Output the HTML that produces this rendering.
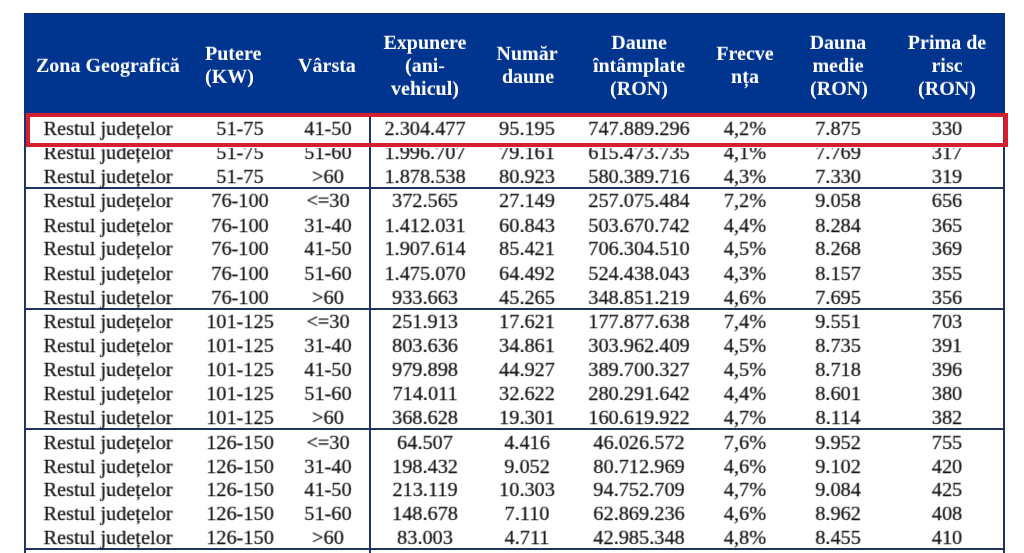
<!DOCTYPE html>
<html><head><meta charset="utf-8"><style>
html,body{margin:0;padding:0;background:#fff;width:1024px;height:553px;overflow:hidden;position:relative}
.t{position:absolute;font-family:"Liberation Serif",serif;font-size:20px;line-height:24px;white-space:nowrap;will-change:transform;transform:scale(1.015,0.95);transform-origin:150px 19.0px}
.t.l{transform-origin:0 19.0px}
.n{-webkit-text-stroke:0.25px #141414}
.b{font-weight:bold;transform:scale(1,0.95)}
.r{position:absolute;box-sizing:content-box}
</style></head><body>
<div class="r" style="left:24px;top:13px;width:981px;height:100px;background:#00358f"></div>
<div class="r" style="left:24px;top:13px;width:981px;height:1px;background:#0b2c6e"></div>
<div class="r" style="left:24px;top:13px;width:2px;height:100px;background:#08307f"></div>
<div class="r" style="left:1003px;top:13px;width:2px;height:100px;background:#08307f"></div>
<div class="t l b" style="left:36.30px;top:53.00px;color:#ffffff">Zona Geografică</div>
<div class="t l b" style="left:205.00px;top:41.20px;color:#ffffff">Putere</div>
<div class="t l b" style="left:204.50px;top:64.40px;color:#ffffff">(KW)</div>
<div class="t b" style="left:176.60px;top:53.20px;width:300px;text-align:center;color:#ffffff">Vârsta</div>
<div class="t b" style="left:275.00px;top:29.90px;width:300px;text-align:center;color:#ffffff">Expunere</div>
<div class="t b" style="left:274.70px;top:52.90px;width:300px;text-align:center;color:#ffffff">(ani-</div>
<div class="t b" style="left:275.00px;top:75.60px;width:300px;text-align:center;color:#ffffff">vehicul)</div>
<div class="t b" style="left:377.30px;top:40.80px;width:300px;text-align:center;color:#ffffff">Număr</div>
<div class="t b" style="left:377.90px;top:64.00px;width:300px;text-align:center;color:#ffffff">daune</div>
<div class="t b" style="left:488.50px;top:29.50px;width:300px;text-align:center;color:#ffffff">Daune</div>
<div class="t b" style="left:488.60px;top:52.70px;width:300px;text-align:center;color:#ffffff">întâmplate</div>
<div class="t b" style="left:489.00px;top:75.60px;width:300px;text-align:center;color:#ffffff">(RON)</div>
<div class="t b" style="left:595.00px;top:40.80px;width:300px;text-align:center;color:#ffffff">Frecve</div>
<div class="t b" style="left:595.00px;top:64.00px;width:300px;text-align:center;color:#ffffff">nța</div>
<div class="t b" style="left:688.00px;top:29.50px;width:300px;text-align:center;color:#ffffff">Dauna</div>
<div class="t b" style="left:688.00px;top:52.70px;width:300px;text-align:center;color:#ffffff">medie</div>
<div class="t b" style="left:688.60px;top:75.60px;width:300px;text-align:center;color:#ffffff">(RON)</div>
<div class="t b" style="left:797.00px;top:29.50px;width:300px;text-align:center;color:#ffffff">Prima de</div>
<div class="t b" style="left:797.00px;top:52.70px;width:300px;text-align:center;color:#ffffff">risc</div>
<div class="t b" style="left:797.00px;top:75.60px;width:300px;text-align:center;color:#ffffff">(RON)</div>
<div class="r" style="left:24px;top:113px;width:2px;height:440px;background:#1f3462"></div>
<div class="r" style="left:1003px;top:113px;width:2px;height:440px;background:#1f3462"></div>
<div class="r" style="left:369px;top:113px;width:2px;height:440px;background:#1f3462"></div>
<div class="r" style="left:24px;top:187px;width:981px;height:2px;background:#1f3462"></div>
<div class="r" style="left:24px;top:308px;width:981px;height:2px;background:#1f3462"></div>
<div class="r" style="left:24px;top:428px;width:981px;height:2px;background:#1f3462"></div>
<div class="r" style="left:24px;top:548px;width:981px;height:2px;background:#1f3462"></div>
<div class="t n" style="left:-41.70px;top:115.80px;width:300px;text-align:center;color:#141414">Restul județelor</div>
<div class="t n" style="left:89.60px;top:115.80px;width:300px;text-align:center;color:#141414">51-75</div>
<div class="t n" style="left:177.80px;top:115.80px;width:300px;text-align:center;color:#141414">41-50</div>
<div class="t n" style="left:274.50px;top:115.80px;width:300px;text-align:center;color:#141414">2.304.477</div>
<div class="t n" style="left:377.30px;top:115.80px;width:300px;text-align:center;color:#141414">95.195</div>
<div class="t n" style="left:488.60px;top:115.80px;width:300px;text-align:center;color:#141414">747.889.296</div>
<div class="t n" style="left:595.20px;top:115.80px;width:300px;text-align:center;color:#141414">4,2%</div>
<div class="t n" style="left:688.40px;top:115.80px;width:300px;text-align:center;color:#141414">7.875</div>
<div class="t n" style="left:796.80px;top:115.80px;width:300px;text-align:center;color:#141414">330</div>
<div class="t n" style="left:-41.70px;top:139.80px;width:300px;text-align:center;color:#141414">Restul județelor</div>
<div class="t n" style="left:89.60px;top:139.80px;width:300px;text-align:center;color:#141414">51-75</div>
<div class="t n" style="left:177.80px;top:139.80px;width:300px;text-align:center;color:#141414">51-60</div>
<div class="t n" style="left:274.50px;top:139.80px;width:300px;text-align:center;color:#141414">1.996.707</div>
<div class="t n" style="left:377.30px;top:139.80px;width:300px;text-align:center;color:#141414">79.161</div>
<div class="t n" style="left:488.60px;top:139.80px;width:300px;text-align:center;color:#141414">615.473.735</div>
<div class="t n" style="left:595.20px;top:139.80px;width:300px;text-align:center;color:#141414">4,1%</div>
<div class="t n" style="left:688.40px;top:139.80px;width:300px;text-align:center;color:#141414">7.769</div>
<div class="t n" style="left:796.80px;top:139.80px;width:300px;text-align:center;color:#141414">317</div>
<div class="t n" style="left:-41.70px;top:163.50px;width:300px;text-align:center;color:#141414">Restul județelor</div>
<div class="t n" style="left:89.60px;top:163.50px;width:300px;text-align:center;color:#141414">51-75</div>
<div class="t n" style="left:177.80px;top:163.50px;width:300px;text-align:center;color:#141414">&gt;60</div>
<div class="t n" style="left:274.50px;top:163.50px;width:300px;text-align:center;color:#141414">1.878.538</div>
<div class="t n" style="left:377.30px;top:163.50px;width:300px;text-align:center;color:#141414">80.923</div>
<div class="t n" style="left:488.60px;top:163.50px;width:300px;text-align:center;color:#141414">580.389.716</div>
<div class="t n" style="left:595.20px;top:163.50px;width:300px;text-align:center;color:#141414">4,3%</div>
<div class="t n" style="left:688.40px;top:163.50px;width:300px;text-align:center;color:#141414">7.330</div>
<div class="t n" style="left:796.80px;top:163.50px;width:300px;text-align:center;color:#141414">319</div>
<div class="t n" style="left:-41.70px;top:188.40px;width:300px;text-align:center;color:#141414">Restul județelor</div>
<div class="t n" style="left:89.60px;top:188.40px;width:300px;text-align:center;color:#141414">76-100</div>
<div class="t n" style="left:177.80px;top:188.40px;width:300px;text-align:center;color:#141414">&lt;=30</div>
<div class="t n" style="left:274.50px;top:188.40px;width:300px;text-align:center;color:#141414">372.565</div>
<div class="t n" style="left:377.30px;top:188.40px;width:300px;text-align:center;color:#141414">27.149</div>
<div class="t n" style="left:488.60px;top:188.40px;width:300px;text-align:center;color:#141414">257.075.484</div>
<div class="t n" style="left:595.20px;top:188.40px;width:300px;text-align:center;color:#141414">7,2%</div>
<div class="t n" style="left:688.40px;top:188.40px;width:300px;text-align:center;color:#141414">9.058</div>
<div class="t n" style="left:796.80px;top:188.40px;width:300px;text-align:center;color:#141414">656</div>
<div class="t n" style="left:-41.70px;top:212.60px;width:300px;text-align:center;color:#141414">Restul județelor</div>
<div class="t n" style="left:89.60px;top:212.60px;width:300px;text-align:center;color:#141414">76-100</div>
<div class="t n" style="left:177.80px;top:212.60px;width:300px;text-align:center;color:#141414">31-40</div>
<div class="t n" style="left:274.50px;top:212.60px;width:300px;text-align:center;color:#141414">1.412.031</div>
<div class="t n" style="left:377.30px;top:212.60px;width:300px;text-align:center;color:#141414">60.843</div>
<div class="t n" style="left:488.60px;top:212.60px;width:300px;text-align:center;color:#141414">503.670.742</div>
<div class="t n" style="left:595.20px;top:212.60px;width:300px;text-align:center;color:#141414">4,4%</div>
<div class="t n" style="left:688.40px;top:212.60px;width:300px;text-align:center;color:#141414">8.284</div>
<div class="t n" style="left:796.80px;top:212.60px;width:300px;text-align:center;color:#141414">365</div>
<div class="t n" style="left:-41.70px;top:236.30px;width:300px;text-align:center;color:#141414">Restul județelor</div>
<div class="t n" style="left:89.60px;top:236.30px;width:300px;text-align:center;color:#141414">76-100</div>
<div class="t n" style="left:177.80px;top:236.30px;width:300px;text-align:center;color:#141414">41-50</div>
<div class="t n" style="left:274.50px;top:236.30px;width:300px;text-align:center;color:#141414">1.907.614</div>
<div class="t n" style="left:377.30px;top:236.30px;width:300px;text-align:center;color:#141414">85.421</div>
<div class="t n" style="left:488.60px;top:236.30px;width:300px;text-align:center;color:#141414">706.304.510</div>
<div class="t n" style="left:595.20px;top:236.30px;width:300px;text-align:center;color:#141414">4,5%</div>
<div class="t n" style="left:688.40px;top:236.30px;width:300px;text-align:center;color:#141414">8.268</div>
<div class="t n" style="left:796.80px;top:236.30px;width:300px;text-align:center;color:#141414">369</div>
<div class="t n" style="left:-41.70px;top:260.60px;width:300px;text-align:center;color:#141414">Restul județelor</div>
<div class="t n" style="left:89.60px;top:260.60px;width:300px;text-align:center;color:#141414">76-100</div>
<div class="t n" style="left:177.80px;top:260.60px;width:300px;text-align:center;color:#141414">51-60</div>
<div class="t n" style="left:274.50px;top:260.60px;width:300px;text-align:center;color:#141414">1.475.070</div>
<div class="t n" style="left:377.30px;top:260.60px;width:300px;text-align:center;color:#141414">64.492</div>
<div class="t n" style="left:488.60px;top:260.60px;width:300px;text-align:center;color:#141414">524.438.043</div>
<div class="t n" style="left:595.20px;top:260.60px;width:300px;text-align:center;color:#141414">4,3%</div>
<div class="t n" style="left:688.40px;top:260.60px;width:300px;text-align:center;color:#141414">8.157</div>
<div class="t n" style="left:796.80px;top:260.60px;width:300px;text-align:center;color:#141414">355</div>
<div class="t n" style="left:-41.70px;top:284.70px;width:300px;text-align:center;color:#141414">Restul județelor</div>
<div class="t n" style="left:89.60px;top:284.70px;width:300px;text-align:center;color:#141414">76-100</div>
<div class="t n" style="left:177.80px;top:284.70px;width:300px;text-align:center;color:#141414">&gt;60</div>
<div class="t n" style="left:274.50px;top:284.70px;width:300px;text-align:center;color:#141414">933.663</div>
<div class="t n" style="left:377.30px;top:284.70px;width:300px;text-align:center;color:#141414">45.265</div>
<div class="t n" style="left:488.60px;top:284.70px;width:300px;text-align:center;color:#141414">348.851.219</div>
<div class="t n" style="left:595.20px;top:284.70px;width:300px;text-align:center;color:#141414">4,6%</div>
<div class="t n" style="left:688.40px;top:284.70px;width:300px;text-align:center;color:#141414">7.695</div>
<div class="t n" style="left:796.80px;top:284.70px;width:300px;text-align:center;color:#141414">356</div>
<div class="t n" style="left:-41.70px;top:308.70px;width:300px;text-align:center;color:#141414">Restul județelor</div>
<div class="t n" style="left:89.60px;top:308.70px;width:300px;text-align:center;color:#141414">101-125</div>
<div class="t n" style="left:177.80px;top:308.70px;width:300px;text-align:center;color:#141414">&lt;=30</div>
<div class="t n" style="left:274.50px;top:308.70px;width:300px;text-align:center;color:#141414">251.913</div>
<div class="t n" style="left:377.30px;top:308.70px;width:300px;text-align:center;color:#141414">17.621</div>
<div class="t n" style="left:488.60px;top:308.70px;width:300px;text-align:center;color:#141414">177.877.638</div>
<div class="t n" style="left:595.20px;top:308.70px;width:300px;text-align:center;color:#141414">7,4%</div>
<div class="t n" style="left:688.40px;top:308.70px;width:300px;text-align:center;color:#141414">9.551</div>
<div class="t n" style="left:796.80px;top:308.70px;width:300px;text-align:center;color:#141414">703</div>
<div class="t n" style="left:-41.70px;top:332.90px;width:300px;text-align:center;color:#141414">Restul județelor</div>
<div class="t n" style="left:89.60px;top:332.90px;width:300px;text-align:center;color:#141414">101-125</div>
<div class="t n" style="left:177.80px;top:332.90px;width:300px;text-align:center;color:#141414">31-40</div>
<div class="t n" style="left:274.50px;top:332.90px;width:300px;text-align:center;color:#141414">803.636</div>
<div class="t n" style="left:377.30px;top:332.90px;width:300px;text-align:center;color:#141414">34.861</div>
<div class="t n" style="left:488.60px;top:332.90px;width:300px;text-align:center;color:#141414">303.962.409</div>
<div class="t n" style="left:595.20px;top:332.90px;width:300px;text-align:center;color:#141414">4,5%</div>
<div class="t n" style="left:688.40px;top:332.90px;width:300px;text-align:center;color:#141414">8.735</div>
<div class="t n" style="left:796.80px;top:332.90px;width:300px;text-align:center;color:#141414">391</div>
<div class="t n" style="left:-41.70px;top:357.00px;width:300px;text-align:center;color:#141414">Restul județelor</div>
<div class="t n" style="left:89.60px;top:357.00px;width:300px;text-align:center;color:#141414">101-125</div>
<div class="t n" style="left:177.80px;top:357.00px;width:300px;text-align:center;color:#141414">41-50</div>
<div class="t n" style="left:274.50px;top:357.00px;width:300px;text-align:center;color:#141414">979.898</div>
<div class="t n" style="left:377.30px;top:357.00px;width:300px;text-align:center;color:#141414">44.927</div>
<div class="t n" style="left:488.60px;top:357.00px;width:300px;text-align:center;color:#141414">389.700.327</div>
<div class="t n" style="left:595.20px;top:357.00px;width:300px;text-align:center;color:#141414">4,5%</div>
<div class="t n" style="left:688.40px;top:357.00px;width:300px;text-align:center;color:#141414">8.718</div>
<div class="t n" style="left:796.80px;top:357.00px;width:300px;text-align:center;color:#141414">396</div>
<div class="t n" style="left:-41.70px;top:380.90px;width:300px;text-align:center;color:#141414">Restul județelor</div>
<div class="t n" style="left:89.60px;top:380.90px;width:300px;text-align:center;color:#141414">101-125</div>
<div class="t n" style="left:177.80px;top:380.90px;width:300px;text-align:center;color:#141414">51-60</div>
<div class="t n" style="left:274.50px;top:380.90px;width:300px;text-align:center;color:#141414">714.011</div>
<div class="t n" style="left:377.30px;top:380.90px;width:300px;text-align:center;color:#141414">32.622</div>
<div class="t n" style="left:488.60px;top:380.90px;width:300px;text-align:center;color:#141414">280.291.642</div>
<div class="t n" style="left:595.20px;top:380.90px;width:300px;text-align:center;color:#141414">4,4%</div>
<div class="t n" style="left:688.40px;top:380.90px;width:300px;text-align:center;color:#141414">8.601</div>
<div class="t n" style="left:796.80px;top:380.90px;width:300px;text-align:center;color:#141414">380</div>
<div class="t n" style="left:-41.70px;top:404.80px;width:300px;text-align:center;color:#141414">Restul județelor</div>
<div class="t n" style="left:89.60px;top:404.80px;width:300px;text-align:center;color:#141414">101-125</div>
<div class="t n" style="left:177.80px;top:404.80px;width:300px;text-align:center;color:#141414">&gt;60</div>
<div class="t n" style="left:274.50px;top:404.80px;width:300px;text-align:center;color:#141414">368.628</div>
<div class="t n" style="left:377.30px;top:404.80px;width:300px;text-align:center;color:#141414">19.301</div>
<div class="t n" style="left:488.60px;top:404.80px;width:300px;text-align:center;color:#141414">160.619.922</div>
<div class="t n" style="left:595.20px;top:404.80px;width:300px;text-align:center;color:#141414">4,7%</div>
<div class="t n" style="left:688.40px;top:404.80px;width:300px;text-align:center;color:#141414">8.114</div>
<div class="t n" style="left:796.80px;top:404.80px;width:300px;text-align:center;color:#141414">382</div>
<div class="t n" style="left:-41.70px;top:429.60px;width:300px;text-align:center;color:#141414">Restul județelor</div>
<div class="t n" style="left:89.60px;top:429.60px;width:300px;text-align:center;color:#141414">126-150</div>
<div class="t n" style="left:177.80px;top:429.60px;width:300px;text-align:center;color:#141414">&lt;=30</div>
<div class="t n" style="left:274.50px;top:429.60px;width:300px;text-align:center;color:#141414">64.507</div>
<div class="t n" style="left:377.30px;top:429.60px;width:300px;text-align:center;color:#141414">4.416</div>
<div class="t n" style="left:488.60px;top:429.60px;width:300px;text-align:center;color:#141414">46.026.572</div>
<div class="t n" style="left:595.20px;top:429.60px;width:300px;text-align:center;color:#141414">7,6%</div>
<div class="t n" style="left:688.40px;top:429.60px;width:300px;text-align:center;color:#141414">9.952</div>
<div class="t n" style="left:796.80px;top:429.60px;width:300px;text-align:center;color:#141414">755</div>
<div class="t n" style="left:-41.70px;top:453.60px;width:300px;text-align:center;color:#141414">Restul județelor</div>
<div class="t n" style="left:89.60px;top:453.60px;width:300px;text-align:center;color:#141414">126-150</div>
<div class="t n" style="left:177.80px;top:453.60px;width:300px;text-align:center;color:#141414">31-40</div>
<div class="t n" style="left:274.50px;top:453.60px;width:300px;text-align:center;color:#141414">198.432</div>
<div class="t n" style="left:377.30px;top:453.60px;width:300px;text-align:center;color:#141414">9.052</div>
<div class="t n" style="left:488.60px;top:453.60px;width:300px;text-align:center;color:#141414">80.712.969</div>
<div class="t n" style="left:595.20px;top:453.60px;width:300px;text-align:center;color:#141414">4,6%</div>
<div class="t n" style="left:688.40px;top:453.60px;width:300px;text-align:center;color:#141414">9.102</div>
<div class="t n" style="left:796.80px;top:453.60px;width:300px;text-align:center;color:#141414">420</div>
<div class="t n" style="left:-41.70px;top:477.10px;width:300px;text-align:center;color:#141414">Restul județelor</div>
<div class="t n" style="left:89.60px;top:477.10px;width:300px;text-align:center;color:#141414">126-150</div>
<div class="t n" style="left:177.80px;top:477.10px;width:300px;text-align:center;color:#141414">41-50</div>
<div class="t n" style="left:274.50px;top:477.10px;width:300px;text-align:center;color:#141414">213.119</div>
<div class="t n" style="left:377.30px;top:477.10px;width:300px;text-align:center;color:#141414">10.303</div>
<div class="t n" style="left:488.60px;top:477.10px;width:300px;text-align:center;color:#141414">94.752.709</div>
<div class="t n" style="left:595.20px;top:477.10px;width:300px;text-align:center;color:#141414">4,7%</div>
<div class="t n" style="left:688.40px;top:477.10px;width:300px;text-align:center;color:#141414">9.084</div>
<div class="t n" style="left:796.80px;top:477.10px;width:300px;text-align:center;color:#141414">425</div>
<div class="t n" style="left:-41.70px;top:500.80px;width:300px;text-align:center;color:#141414">Restul județelor</div>
<div class="t n" style="left:89.60px;top:500.80px;width:300px;text-align:center;color:#141414">126-150</div>
<div class="t n" style="left:177.80px;top:500.80px;width:300px;text-align:center;color:#141414">51-60</div>
<div class="t n" style="left:274.50px;top:500.80px;width:300px;text-align:center;color:#141414">148.678</div>
<div class="t n" style="left:377.30px;top:500.80px;width:300px;text-align:center;color:#141414">7.110</div>
<div class="t n" style="left:488.60px;top:500.80px;width:300px;text-align:center;color:#141414">62.869.236</div>
<div class="t n" style="left:595.20px;top:500.80px;width:300px;text-align:center;color:#141414">4,6%</div>
<div class="t n" style="left:688.40px;top:500.80px;width:300px;text-align:center;color:#141414">8.962</div>
<div class="t n" style="left:796.80px;top:500.80px;width:300px;text-align:center;color:#141414">408</div>
<div class="t n" style="left:-41.70px;top:525.00px;width:300px;text-align:center;color:#141414">Restul județelor</div>
<div class="t n" style="left:89.60px;top:525.00px;width:300px;text-align:center;color:#141414">126-150</div>
<div class="t n" style="left:177.80px;top:525.00px;width:300px;text-align:center;color:#141414">&gt;60</div>
<div class="t n" style="left:274.50px;top:525.00px;width:300px;text-align:center;color:#141414">83.003</div>
<div class="t n" style="left:377.30px;top:525.00px;width:300px;text-align:center;color:#141414">4.711</div>
<div class="t n" style="left:488.60px;top:525.00px;width:300px;text-align:center;color:#141414">42.985.348</div>
<div class="t n" style="left:595.20px;top:525.00px;width:300px;text-align:center;color:#141414">4,8%</div>
<div class="t n" style="left:688.40px;top:525.00px;width:300px;text-align:center;color:#141414">8.455</div>
<div class="t n" style="left:796.80px;top:525.00px;width:300px;text-align:center;color:#141414">410</div>
<div class="r" style="left:26px;top:113px;width:973px;height:26px;border:4px solid #d6202f;border-right-width:5px"></div>
<div class="r" style="left:1003px;top:117px;width:1px;height:26px;background:#8a2a48"></div>
<div class="r" style="left:26px;top:147px;width:343px;height:1.3px;background:#ffffff"></div>
<div class="r" style="left:371px;top:147px;width:632px;height:1.3px;background:#ffffff"></div>
</body></html>
